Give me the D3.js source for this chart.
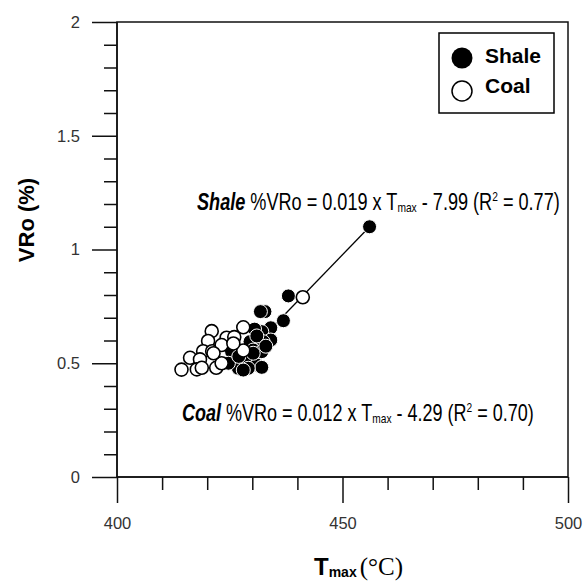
<!DOCTYPE html>
<html>
<head>
<meta charset="utf-8">
<script src="https://cdn.jsdelivr.net/npm/d3@7"></script>
<style>
  html, body { margin: 0; padding: 0; background: #fff; }
  svg { display: block; }
  text { font-family: "Liberation Sans", Arial, sans-serif; }
</style>
</head>
<body>
<svg id="chart" width="584" height="582"></svg>
<script>
// Tmax (°C) vs. vitrinite reflectance VRo (%) for shale and coal samples
const shaleTmax = [456.0, 438.0, 432.8, 431.8, 436.9, 434.1, 432.1, 430.5, 434.1, 432.4, 429.5, 431.0, 430.2, 432.1, 425.4, 428.8, 431.0, 432.1, 429.1, 426.9, 424.7, 428.0, 430.2, 427.0, 433.0];
const shaleVRo  = [1.10, 0.796, 0.727, 0.727, 0.687, 0.656, 0.639, 0.650, 0.602, 0.595, 0.595, 0.620, 0.558, 0.551, 0.551, 0.514, 0.492, 0.482, 0.478, 0.478, 0.500, 0.470, 0.544, 0.530, 0.575];

const coalTmax = [441.2, 428.0, 421.0, 424.3, 420.2, 426.0, 419.1, 421.1, 428.0, 423.2, 416.2, 418.4, 414.3, 417.7, 418.8, 422.0, 423.2, 421.4, 425.8];
const coalVRo  = [0.790, 0.658, 0.641, 0.612, 0.598, 0.615, 0.553, 0.553, 0.556, 0.580, 0.524, 0.517, 0.472, 0.473, 0.480, 0.480, 0.500, 0.544, 0.587];

// Trend line through the shale samples (end points in data units)
const trendTmax = [430.0, 456.0];
const trendVRo  = [0.567, 1.10];

// Axis ticks
const xMajorTicks = [400, 450, 500];
const xMinorTicks = [410, 420, 430, 440, 460, 470, 480, 490];
const yMajorTicks = [0, 0.5, 1, 1.5, 2];
const yMinorTicks = [0.1, 0.2, 0.3, 0.4, 0.6, 0.7, 0.8, 0.9, 1.1, 1.2, 1.3, 1.4, 1.6, 1.7, 1.8, 1.9];

const legendLabels = ["Shale", "Coal"];

const svg = d3.select("#chart");
const plotLeft = 117, plotRight = 568, plotTop = 22, plotBottom = 477;

const x = d3.scaleLinear().domain([400, 500]).range([plotLeft, plotRight]);
const y = d3.scaleLinear().domain([0, 2]).range([plotBottom, plotTop]);

const axisColor = "#111";

// Frame (top and right edges)
svg.append("rect")
  .attr("x", plotLeft).attr("y", plotTop)
  .attr("width", plotRight - plotLeft).attr("height", plotBottom - plotTop)
  .attr("fill", "none").attr("stroke", axisColor).attr("stroke-width", 1.5);

function styleAxis(g) {
  g.select(".domain").remove();
  g.selectAll(".tick line").attr("stroke", axisColor).attr("stroke-width", 1.5);
  g.selectAll(".tick text")
    .attr("fill", "#333")
    .style("font-size", "16.5px")
    .style("font-family", "'Liberation Sans', Arial, sans-serif");
}

// Y axis: major + minor ticks, pointing outward
svg.append("g").attr("transform", `translate(${plotLeft},0)`)
  .call(d3.axisLeft(y).tickValues(yMinorTicks).tickSize(13).tickFormat(""))
  .call(styleAxis);
svg.append("g").attr("transform", `translate(${plotLeft},0)`)
  .call(d3.axisLeft(y).tickValues(yMajorTicks).tickSize(25).tickPadding(12)
    .tickFormat(d3.format("")))
  .call(styleAxis);

// X axis
svg.append("g").attr("transform", `translate(0,${plotBottom})`)
  .call(d3.axisBottom(x).tickValues(xMinorTicks).tickSize(13).tickFormat(""))
  .call(styleAxis);
svg.append("g").attr("transform", `translate(0,${plotBottom})`)
  .call(d3.axisBottom(x).tickValues(xMajorTicks).tickSize(26).tickPadding(14))
  .call(styleAxis);

// Axis lines drawn on top of the ticks
svg.append("line").attr("x1", plotLeft).attr("x2", plotLeft).attr("y1", plotTop).attr("y2", plotBottom)
  .attr("stroke", axisColor).attr("stroke-width", 1.5);
svg.append("line").attr("x1", plotLeft).attr("x2", plotRight).attr("y1", plotBottom).attr("y2", plotBottom)
  .attr("stroke", axisColor).attr("stroke-width", 1.5);

// Trend line
svg.append("line")
  .attr("x1", x(trendTmax[0])).attr("y1", y(trendVRo[0]))
  .attr("x2", x(trendTmax[1])).attr("y2", y(trendVRo[1]))
  .attr("stroke", "#000").attr("stroke-width", 1.3);

// Points
const r = 7;
const shale = shaleTmax.map((t, i) => ({ t, v: shaleVRo[i] }));
const coal = coalTmax.map((t, i) => ({ t, v: coalVRo[i] }));

svg.append("g").selectAll("circle").data(shale).join("circle")
  .attr("cx", d => x(d.t)).attr("cy", d => y(d.v)).attr("r", r)
  .attr("fill", "#000").attr("stroke", "#fff").attr("stroke-width", 1);

svg.append("g").selectAll("circle").data(coal).join("circle")
  .attr("cx", d => x(d.t)).attr("cy", d => y(d.v)).attr("r", r - 0.5)
  .attr("fill", "#fff").attr("stroke", "#000").attr("stroke-width", 1.6);

// Legend
const lg = svg.append("g");
lg.append("rect").attr("x", 439).attr("y", 33).attr("width", 115).attr("height", 80)
  .attr("fill", "#fff").attr("stroke", "#000").attr("stroke-width", 1.5);
lg.append("circle").attr("cx", 462).attr("cy", 58).attr("r", 10.5).attr("fill", "#000");
lg.append("circle").attr("cx", 462).attr("cy", 91).attr("r", 10).attr("fill", "#fff")
  .attr("stroke", "#000").attr("stroke-width", 1.5);
lg.selectAll("text.lbl").data(legendLabels).join("text").attr("class", "lbl")
  .attr("x", 485).attr("y", (d, i) => i === 0 ? 63 : 93)
  .style("font-size", "21px").style("font-weight", "bold").attr("fill", "#000")
  .text(d => d);

// Regression equations (fitted to a target width)
function equation(x0, baseline, width, name, rest1, rest2, r2) {
  const g = svg.append("g");
  const t = g.append("text").attr("x", 0).attr("y", 0).attr("fill", "#000")
    .style("font-size", "23px");
  t.append("tspan").style("font-weight", "bold").style("font-style", "italic").text(name);
  t.append("tspan").text(" %VRo = " + rest1 + " x T");
  t.append("tspan").style("font-size", "13px").attr("dy", 2).text("max");
  t.append("tspan").attr("dy", -2).text(" - " + rest2 + " (R");
  t.append("tspan").style("font-size", "13px").attr("dy", -9).text("2");
  t.append("tspan").attr("dy", 9).text(" = " + r2 + ")");
  const w = t.node().getBBox().width;
  g.attr("transform", `translate(${x0},${baseline}) scale(${width / w},1)`);
}
equation(197, 210, 363, "Shale", "0.019", "7.99", "0.77");
equation(182, 421, 352, "Coal", "0.012", "4.29", "0.70");

// Axis titles
svg.append("text")
  .attr("transform", "translate(34,220) rotate(-90)")
  .attr("text-anchor", "middle")
  .style("font-size", "22px").style("font-weight", "bold").attr("fill", "#000")
  .text("VRo (%)");

const xt = svg.append("text").attr("x", 314).attr("y", 575).attr("fill", "#000");
xt.append("tspan").style("font-size", "24px").style("font-weight", "bold").text("T");
xt.append("tspan").style("font-size", "14px").style("font-weight", "bold").attr("dy", 2).text("max");
xt.append("tspan").attr("dy", -2).attr("dx", 3)
  .style("font-family", "'Liberation Serif', 'Times New Roman', serif")
  .style("font-size", "25px").text("(°C)");
</script>
</body>
</html>
